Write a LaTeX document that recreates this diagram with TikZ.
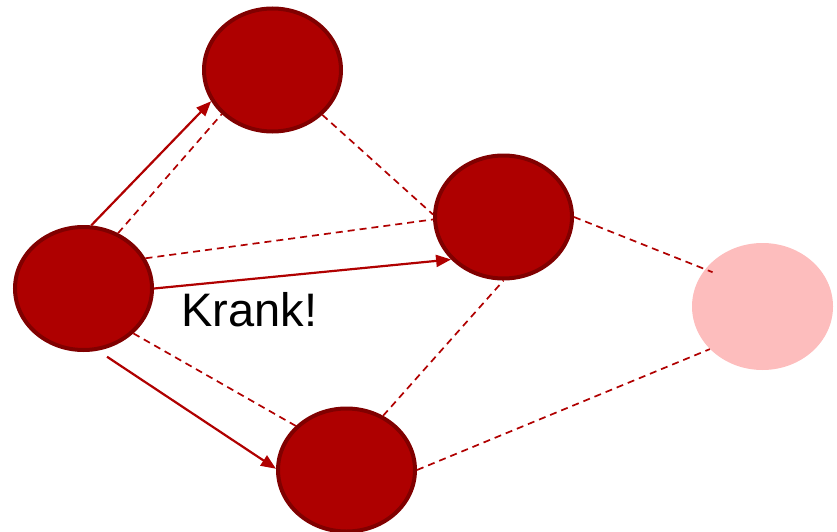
\documentclass[tikz,border=0pt]{standalone}
\usepackage{fontspec}
\setmainfont{Liberation Sans}
\usetikzlibrary{shapes.geometric,arrows.meta}
\definecolor{nodefill}{HTML}{AE0000}
\definecolor{nodeline}{HTML}{800000}
\definecolor{edgecol}{HTML}{B00000}
\definecolor{faded}{HTML}{FDBDBD}
\begin{document}
\begin{tikzpicture}[x=1pt,y=-1pt,
  peer/.style={ellipse, fill=nodefill, draw=nodeline, line width=4pt,
    minimum width=137pt, minimum height=123pt, inner sep=0pt},
  gone/.style={ellipse, fill=faded, minimum width=141pt, minimum height=127pt, inner sep=0pt},
  link/.style={draw=edgecol, line width=1.7pt, dash pattern=on 7pt off 5pt},
  msg/.style={draw=edgecol, line width=2.2pt, -{Triangle[length=15pt,width=12pt]}}]
\useasboundingbox (0,0) rectangle (837,532);

% peers
\node[peer] (t) at (272.5,70) {};
\node[peer] (l) at (83.5,288.5) {};
\node[peer] (m) at (503.5,217) {};
\node[peer] (b) at (346.5,470) {};
\node[gone] (p) at (762.5,306.5) {};

% overlay links (dashed)
\draw[link] (l.58) -- (t.221);
\draw[link] (t.318) -- (m.178);
\draw[link] (l.26) -- (m.182);
\draw[link] (l.318) -- (b.139);
\draw[link] (b.56) -- (m.270);
\draw[link, shorten >=-8pt] (m.0) -- (p.147);
\draw[link] (b.0) -- (p.219);

% messages sent (solid arrows)
\draw[msg] (l.83) -- (t.207);
\draw[msg] (l.0) -- (m.219);
\draw[msg, shorten <=11pt] (l.283) -- (b.179);

\node[font=\fontsize{47}{50}\selectfont, inner sep=0pt] (k) at (249.5,309.5) {Krank!};
\end{tikzpicture}
\end{document}
